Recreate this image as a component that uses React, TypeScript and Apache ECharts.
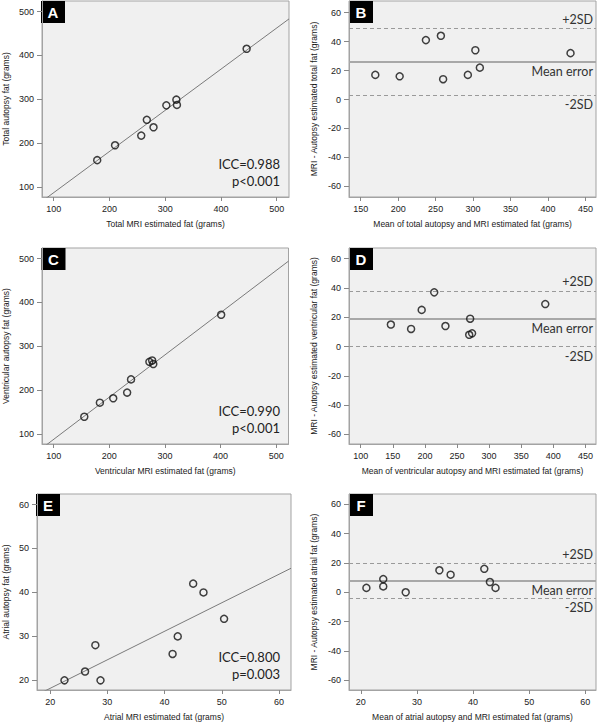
import { useEffect, useRef } from "react";
import * as echarts from "echarts";

// ---------- Data ----------
// Panel A: total fat
const totalMri = [178, 210, 257, 267, 279, 302, 320, 321, 446];
const totalAutopsy = [161, 195, 217, 253, 236, 286, 299, 287, 415];
const fitTotal = { slope: 0.939, intercept: -7 };
// Panel B: Bland-Altman total
const totalMean = [169.5, 202, 237, 257, 260, 293, 303, 309, 430];
const totalDiff = [17, 16, 41, 44, 14, 17, 34, 22, 32];
const totalLimits = { plus2SD: 49, mean: 26, minus2SD: 3 };
// Panel C: ventricular fat
const ventMri = [155, 183, 207, 232, 239, 272, 277, 279, 401];
const ventAutopsy = [140, 172, 182, 195, 225, 265, 268, 260, 372];
const fitVent = { slope: 0.961, intercept: -7.5 };
// Panel D: Bland-Altman ventricular
const ventMean = [147, 178.5, 195, 214.5, 232, 269, 270.5, 273.5, 387.5];
const ventDiff = [15, 12, 25, 37, 14, 8, 19, 9, 29];
const ventLimits = { plus2SD: 38, mean: 19, minus2SD: 0 };
// Panel E: atrial fat
const atrialMri = [22.5, 26.1, 27.9, 28.8, 41.4, 42.3, 45, 46.8, 50.4];
const atrialAutopsy = [20, 22, 28, 20, 26, 30, 42, 40, 34];
const fitAtrial = { slope: 0.649, intercept: 5.2 };
// Panel F: Bland-Altman atrial
const atrialMean = [21, 24, 24, 28, 34, 36, 42, 43, 44];
const atrialDiff = [3, 9, 4, 0, 15, 12, 16, 7, 3];
const atrialLimits = { plus2SD: 19.5, mean: 7.9, minus2SD: -3.9 };

const panelLetters = ["A", "B", "C", "D", "E", "F"];
const iccLabels = ["ICC=0.988", "ICC=0.990", "ICC=0.800"];
const pLabels = ["p<0.001", "p<0.001", "p=0.003"];
const limitLabels = ["+2SD", "Mean error", "-2SD"];

const fatTicks = [100, 200, 300, 400, 500];
const diffTicks = [-60, -40, -20, 0, 20, 40, 60];
const totalMeanTicks = [150, 200, 250, 300, 350, 400, 450];
const ventMeanTicks = [100, 150, 200, 250, 300, 350, 400, 450];
const atrialTicks = [20, 30, 40, 50, 60];

const xNames = [
  "Total MRI estimated fat (grams)",
  "Mean of total autopsy and MRI estimated fat (grams)",
  "Ventricular MRI estimated fat (grams)",
  "Mean of ventricular autopsy and MRI estimated fat (grams)",
  "Atrial MRI estimated fat (grams)",
  "Mean of atrial autopsy and MRI estimated fat (grams)",
];
const yNames = [
  "Total autopsy fat (grams)",
  "MRI - Autopsy estimated total fat (grams)",
  "Ventricular autopsy fat (grams)",
  "MRI - Autopsy estimated ventricular fat (grams)",
  "Atrial autopsy fat (grams)",
  "MRI - Autopsy estimated atrial fat (grams)",
];

type Fit = { slope: number; intercept: number };
type Limits = { plus2SD: number; mean: number; minus2SD: number };
type Panel = {
  left: number; top: number; width: number; height: number;
  xMin: number; xMax: number; yMin: number; yMax: number;
  xTicks: number[]; yTicks: number[]; yNameGap: number;
  xs: number[]; ys: number[]; fit?: Fit; limits?: Limits;
};

const panels: Panel[] = [
  { left: 41, top: 1, width: 248, height: 196, xMin: 79, xMax: 522, yMin: 77, yMax: 524,
    xTicks: fatTicks, yTicks: fatTicks, yNameGap: 32, xs: totalMri, ys: totalAutopsy, fit: fitTotal },
  { left: 349, top: 1, width: 247, height: 196, xMin: 134.4, xMax: 464, yMin: -67.3, yMax: 68,
    xTicks: totalMeanTicks, yTicks: diffTicks, yNameGap: 31, xs: totalMean, ys: totalDiff, limits: totalLimits },
  { left: 41.5, top: 248, width: 247, height: 196, xMin: 79, xMax: 522, yMin: 78, yMax: 524,
    xTicks: fatTicks, yTicks: fatTicks, yNameGap: 32, xs: ventMri, ys: ventAutopsy, fit: fitVent },
  { left: 349, top: 248, width: 247, height: 196, xMin: 81.8, xMax: 466.5, yMin: -66.6, yMax: 67.3,
    xTicks: ventMeanTicks, yTicks: diffTicks, yNameGap: 31, xs: ventMean, ys: ventDiff, limits: ventLimits },
  { left: 36, top: 494, width: 255, height: 196, xMin: 17.7, xMax: 62.1, yMin: 17.8, yMax: 62.4,
    xTicks: atrialTicks, yTicks: atrialTicks, yNameGap: 27, xs: atrialMri, ys: atrialAutopsy, fit: fitAtrial },
  { left: 349, top: 494, width: 247, height: 196, xMin: 17.9, xMax: 61.9, yMin: -66.6, yMax: 67,
    xTicks: atrialTicks, yTicks: diffTicks, yNameGap: 31, xs: atrialMean, ys: atrialDiff, limits: atrialLimits },
];

const AXIS_COLOR = "#a3a3a3";
const TICK_FONT = "'Liberation Sans', Arial, sans-serif";
const NOTE_FONT = "Lato, 'Open Sans', sans-serif";

function buildOption() {
  const grid: any[] = [];
  const xAxis: any[] = [];
  const yAxis: any[] = [];
  const series: any[] = [];
  const graphic: any[] = [];

  panels.forEach((p, i) => {
    grid.push({
      left: p.left, top: p.top, width: p.width, height: p.height,
      show: true, backgroundColor: "#f0f0f0", borderColor: AXIS_COLOR, borderWidth: 1,
      containLabel: false,
    });
    xAxis.push({
      type: "value", gridIndex: i, min: p.xMin, max: p.xMax,
      name: xNames[i], nameLocation: "middle", nameGap: 22,
      nameTextStyle: { fontFamily: TICK_FONT, fontSize: 8.5, color: "#1a1a1a" },
      axisLine: { show: true, onZero: false, lineStyle: { color: AXIS_COLOR } },
      axisTick: { show: true, length: 4, customValues: p.xTicks, lineStyle: { color: "#888" } },
      axisLabel: { customValues: p.xTicks, fontFamily: TICK_FONT, fontSize: 9, color: "#222", margin: 7 },
      splitLine: { show: false },
    });
    yAxis.push({
      type: "value", gridIndex: i, min: p.yMin, max: p.yMax,
      name: yNames[i], nameLocation: "middle", nameGap: p.yNameGap, nameRotate: 90,
      nameTextStyle: { fontFamily: TICK_FONT, fontSize: 8.5, color: "#1a1a1a" },
      axisLine: { show: true, onZero: false, lineStyle: { color: AXIS_COLOR } },
      axisTick: { show: true, length: 5, customValues: p.yTicks, lineStyle: { color: "#888" } },
      axisLabel: { customValues: p.yTicks, fontFamily: TICK_FONT, fontSize: 9, color: "#222", margin: 8 },
      splitLine: { show: false },
    });

    if (p.fit) {
      const f = p.fit;
      series.push({
        type: "line", xAxisIndex: i, yAxisIndex: i, clip: true, showSymbol: false, silent: true,
        data: [[p.xMin, f.intercept + f.slope * p.xMin], [p.xMax, f.intercept + f.slope * p.xMax]],
        lineStyle: { color: "#7a7a7a", width: 1 }, z: 2,
      });
    }

    const scatter: any = {
      type: "scatter", xAxisIndex: i, yAxisIndex: i, symbol: "circle", symbolSize: 7,
      data: p.xs.map((x, k) => [x, p.ys[k]]),
      itemStyle: { color: "rgba(0,0,0,0)", borderColor: "#111", borderWidth: 1.5 },
      z: 5,
    };
    if (p.limits) {
      const L = p.limits;
      const dashed = { type: [4, 3], color: "#9a9a9a", width: 1 };
      const lbl = { fontFamily: NOTE_FONT, fontSize: 12.5, color: "#333", distance: 3 };
      scatter.markLine = {
        silent: true, symbol: ["none", "none"], animation: false,
        data: [
          { yAxis: L.plus2SD, lineStyle: dashed, label: { ...lbl, formatter: limitLabels[0], position: "insideEndTop" } },
          { yAxis: L.mean, lineStyle: { type: "solid", color: "#a8a8a8", width: 2 }, label: { ...lbl, formatter: limitLabels[1], position: "insideEndBottom" } },
          { yAxis: L.minus2SD, lineStyle: dashed, label: { ...lbl, formatter: limitLabels[2], position: "insideEndBottom" } },
        ],
      };
    }
    series.push(scatter);

    // panel letter box
    graphic.push({
      type: "group", x: p.left, y: p.top, z: 100,
      children: [
        { type: "rect", shape: { x: 0, y: 0, width: 24, height: 22 }, style: { fill: "#000" } },
        { type: "text", x: 12, y: 11.5, style: { text: panelLetters[i], fill: "#fff", font: "bold 15px 'Liberation Sans', Arial, sans-serif", align: "center", verticalAlign: "middle" } },
      ],
    });
  });

  // ICC annotations on panels A, C, E
  [0, 2, 4].forEach((pi, j) => {
    const p = panels[pi];
    const bottom = p.top + p.height;
    graphic.push({
      type: "text", x: 280, y: bottom - 33, z: 100,
      style: { text: iccLabels[j], fill: "#222", font: `13px ${NOTE_FONT}`, align: "right", verticalAlign: "middle" },
    });
    graphic.push({
      type: "text", x: 280, y: bottom - 16, z: 100,
      style: { text: pLabels[j], fill: "#222", font: `13px ${NOTE_FONT}`, align: "right", verticalAlign: "middle" },
    });
  });

  return { animation: false, backgroundColor: "#fff", grid, xAxis, yAxis, series, graphic };
}

export default function App() {
  const ref = useRef<HTMLDivElement>(null);
  useEffect(() => {
    if (!ref.current) return;
    const chart = echarts.init(ref.current, undefined, { renderer: "svg" });
    chart.setOption(buildOption() as any);
    return () => chart.dispose();
  }, []);
  return (
    <div
      ref={ref}
      style={{ position: "absolute", left: 0, top: 0, width: 600, height: 726, background: "#fff" }}
    />
  );
}
